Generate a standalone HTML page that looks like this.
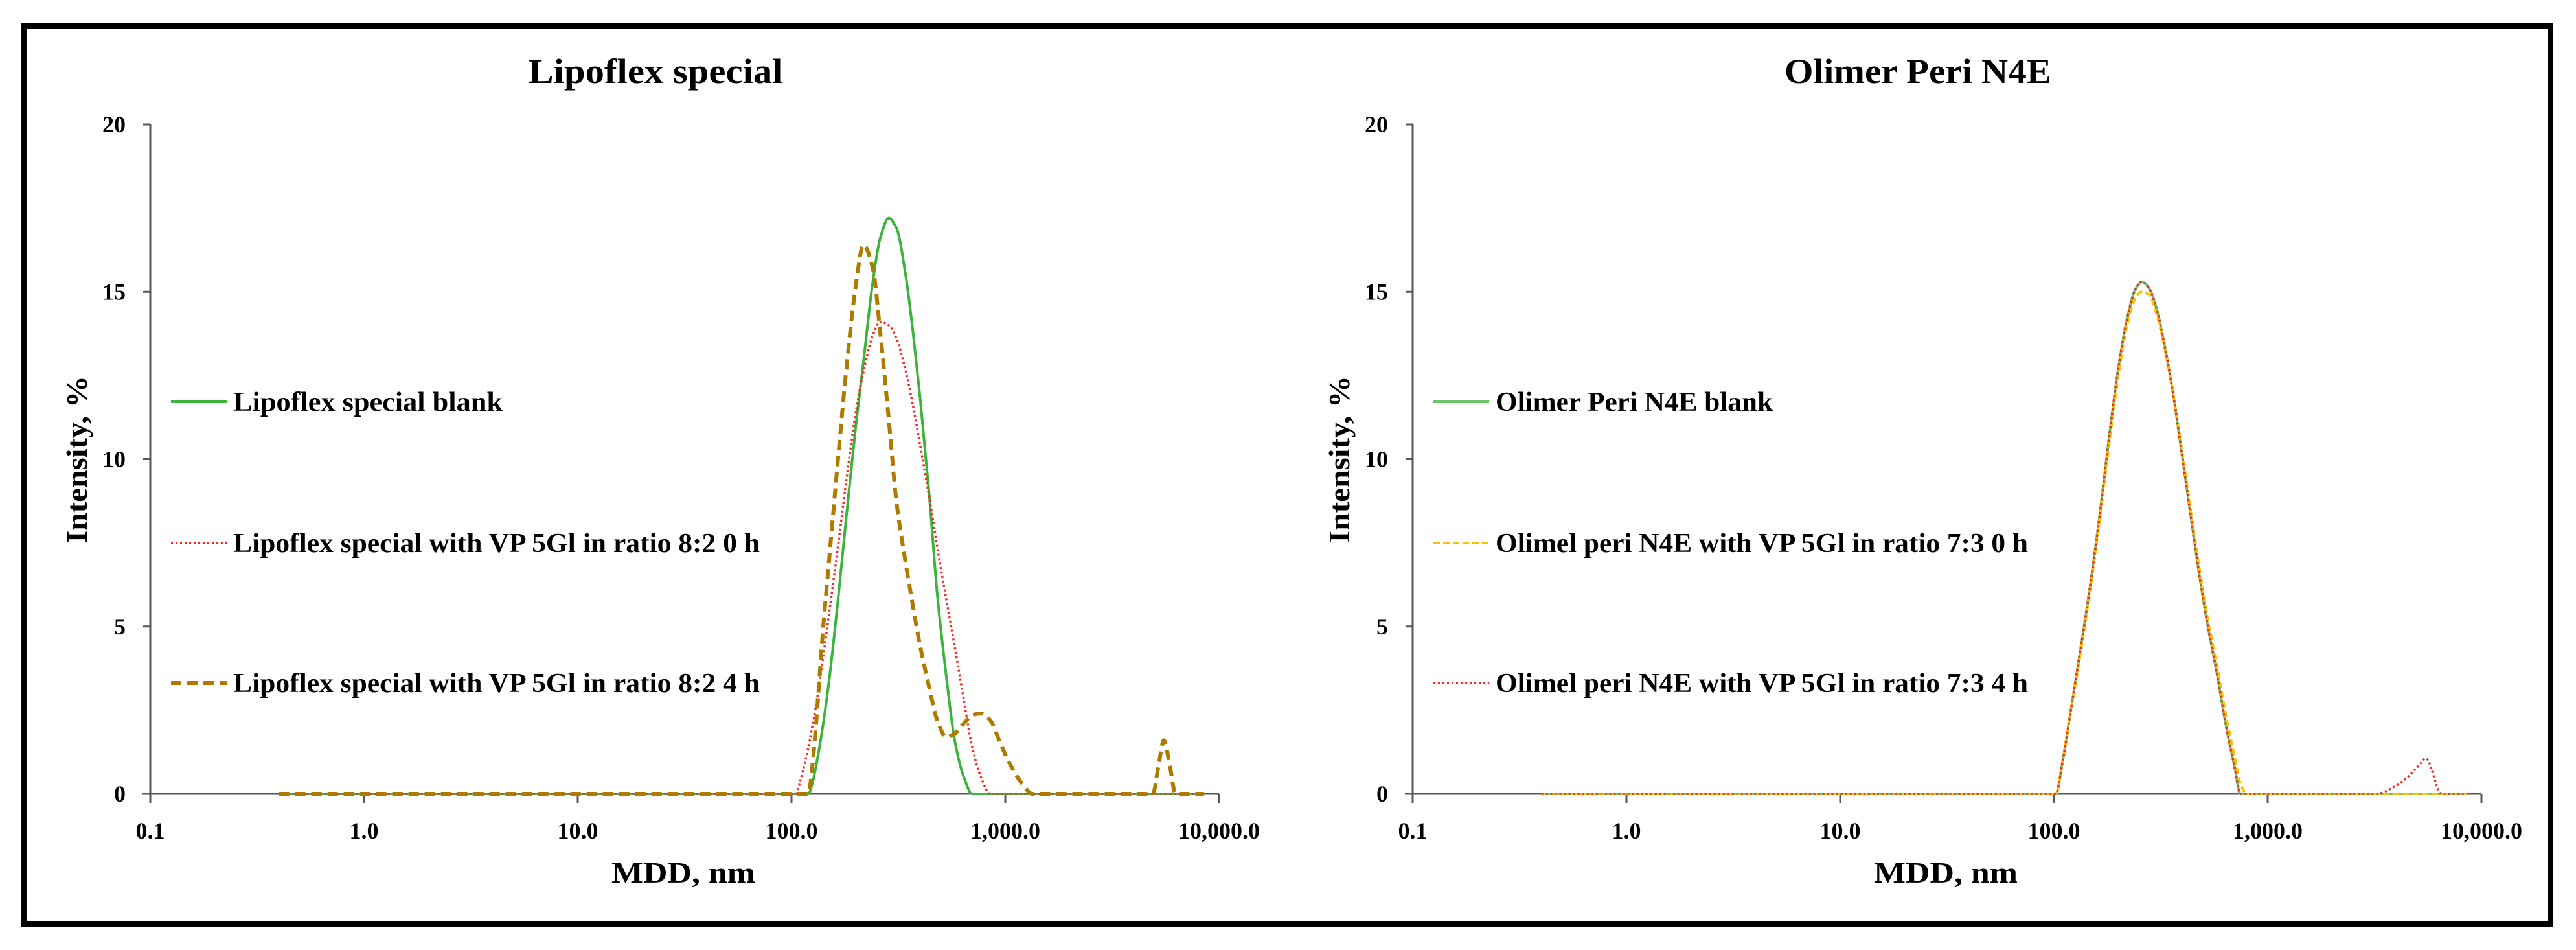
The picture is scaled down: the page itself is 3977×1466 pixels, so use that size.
<!DOCTYPE html>
<html><head><meta charset="utf-8">
<style>
html,body{margin:0;padding:0;background:#fff;}
svg{display:block;}
text{font-family:"Liberation Serif",serif;font-weight:bold;fill:#000;}
</style></head>
<body>
<svg id="fig" width="3977" height="1466" viewBox="0 0 3977 1466" xmlns="http://www.w3.org/2000/svg">
<rect x="37" y="40" width="3901" height="1386" fill="#fff" stroke="#000" stroke-width="8"/>
<g id="left"></g>
<g id="right"></g>
</svg>
<script>
// Left chart data
const sizesL = [0.4,100,105,110,120,125,130,140,150,165,180,200,217,240,260,285,310,340,370,400,440,480,530,580,640,700,770,850,950,1050,1200,1340,4900,5200,5520,5900,6260,8500];
const lipoBlank = [0,0,0,0,0,0.3,0.8,2.0,3.4,5.8,8.2,11.0,12.9,15.3,16.6,17.2,16.9,15.6,13.8,11.8,9.0,6.0,3.5,1.6,0.5,0,0,0,0,0,0,0,0,0,0,0,0,0];
const lipo0h = [0,0,0,0.4,1.4,2.0,2.6,4.0,5.4,7.4,9.3,11.4,12.6,13.7,14.1,14.0,13.6,12.7,11.6,10.4,8.9,7.4,5.8,4.4,2.8,1.4,0.5,0,0,0,0,0,0,0,0,0,0,0];
const lipo4h = [0,0,0,0,0,0.8,2.0,4.8,7.0,10.0,12.6,15.2,16.4,15.7,13.8,11.2,8.7,7.0,5.6,4.4,3.2,2.2,1.7,1.8,2.1,2.35,2.4,2.2,1.5,0.9,0.3,0,0,0.8,1.6,0.8,0,0];
// Right chart data
const sizesR = [0.4,100,102,110,120,130,140,150,165,180,200,220,240,258,280,300,330,360,400,440,480,525,580,640,700,746,800,3200,4000,4600,5100,5500,6500,8500];
const olimBlank = [0,0,0,1.0,2.5,3.9,5.2,6.5,8.5,10.5,12.7,14.2,15.06,15.3,15.08,14.56,13.37,12.0,10.0,8.15,6.5,5.0,3.57,2.0,0.8,0,0,0,0,0,0,0,0,0];
const olim0h = [0,0,0,1.0,2.5,3.8,5.1,6.4,8.4,10.3,12.5,14.0,14.8,15.0,14.9,14.4,13.3,12.0,10.1,8.3,6.7,5.2,3.8,2.3,1.1,0.3,0,0,0,0,0,0,0,0];
const olim4h = [0,0,0,1.0,2.5,3.9,5.2,6.5,8.5,10.5,12.7,14.2,15.06,15.3,15.08,14.56,13.37,12.0,10.0,8.15,6.5,5.0,3.57,2.0,0.8,0,0,0,0.25,0.55,0.85,1.06,0,0];
const yTicks = [0,5,10,15,20];
const xTickVals = [0.1,1,10,100,1000,10000];
const xTickLabels = ["0.1","1.0","10.0","100.0","1,000.0","10,000.0"];

const NS="http://www.w3.org/2000/svg";
function mk(parent,tag,attrs){const e=document.createElementNS(NS,tag);for(const k in attrs)e.setAttribute(k,attrs[k]);parent.appendChild(e);return e;}

function monotonePath(P){
  const n=P.length, dx=[], m=[], t=[];
  for(let i=0;i<n-1;i++){dx[i]=P[i+1][0]-P[i][0];m[i]=(P[i+1][1]-P[i][1])/dx[i];}
  t[0]=m[0];t[n-1]=m[n-2];
  for(let i=1;i<n-1;i++){t[i]=(m[i-1]*m[i]<=0)?0:(3*(dx[i-1]+dx[i]))/((2*dx[i]+dx[i-1])/m[i-1]+(dx[i]+2*dx[i-1])/m[i]);}
  let d='M'+P[0][0].toFixed(1)+','+P[0][1].toFixed(1);
  for(let i=0;i<n-1;i++){
    const h=dx[i]/3;
    d+=' C'+(P[i][0]+h).toFixed(1)+','+(P[i][1]+t[i]*h).toFixed(1)+' '+(P[i+1][0]-h).toFixed(1)+','+(P[i+1][1]-t[i+1]*h).toFixed(1)+' '+P[i+1][0].toFixed(1)+','+P[i+1][1].toFixed(1);
  }
  return d;
}

function chart(g,cfg){
  const x0=cfg.x0, x1=cfg.x0+1650, y0=1225, y1=192;
  const xs=v=>x0+(Math.log10(v)+1)/5*(x1-x0);
  const ys=v=>y0-v/20*(y0-y1);
  let t=mk(g,'text',{x:cfg.titleX,y:128,'font-size':54,'text-anchor':'middle',textLength:cfg.titleW,lengthAdjust:'spacingAndGlyphs'});
  
  
  t.textContent=cfg.title;
  let ax=mk(g,'g',{});
  
  
  mk(ax,'line',{x1:x0,y1:y1,x2:x0,y2:y0,stroke:'#555','stroke-width':3});
  yTicks.forEach(v=>{
    mk(ax,'line',{x1:x0-11,y1:ys(v),x2:x0,y2:ys(v),stroke:'#555','stroke-width':3});
    const l=mk(ax,'text',{x:x0-38,y:ys(v)+12,'font-size':36,'text-anchor':'end'});
    
    
    l.textContent=String(v);
  });
  let bx=mk(g,'g',{});
  
  
  mk(bx,'line',{x1:x0-12,y1:y0,x2:x1,y2:y0,stroke:'#555','stroke-width':3});
  xTickVals.forEach((v,i)=>{
    mk(bx,'line',{x1:xs(v),y1:y0,x2:xs(v),y2:y0+14,stroke:'#555','stroke-width':3});
    const l=mk(bx,'text',{x:xs(v),y:1294,'font-size':36,'text-anchor':'middle'});
    
    
    l.textContent=xTickLabels[i];
  });
  let xt=mk(g,'text',{x:cfg.x0+823,y:1362,'font-size':46,'text-anchor':'middle',textLength:222,lengthAdjust:'spacingAndGlyphs'});
  
  
  xt.textContent='MDD, nm';
  let yt=mk(g,'text',{x:0,y:0,'font-size':46,'text-anchor':'middle',textLength:258,lengthAdjust:'spacingAndGlyphs',transform:`translate(${cfg.x0-98},709) rotate(-90)`});
  
  
  yt.textContent='Intensity, %';
  const lx=cfg.x0+32, ly=[620,838,1054];
  cfg.series.forEach((s,i)=>{
    const pts=cfg.sizes.map((v,j)=>[xs(v),ys(s.vals[j])]);
    const p=mk(g,'path',{d:monotonePath(pts),fill:'none',stroke:s.color,'stroke-width':s.w,'stroke-dasharray':s.dash,'stroke-linejoin':'round'});
    
    
    const le=mk(g,'g',{});
    
    
    mk(le,'line',{x1:lx,y1:ly[i],x2:lx+86,y2:ly[i],stroke:s.color,'stroke-width':s.w,'stroke-dasharray':s.dash});
    const tt=mk(le,'text',{x:lx+96,y:ly[i]+14,'font-size':42,textLength:s.tw,lengthAdjust:'spacingAndGlyphs'});
    tt.textContent=s.label;
  });
}
chart(document.getElementById('left'),{x0:232,title:'Lipoflex special',titleX:1012,titleW:393,sizes:sizesL,series:[
  {id:'lipoflex-blank',vals:lipoBlank,color:'#3cb43c',w:4,dash:'',label:'Lipoflex special blank',tw:416},
  {id:'lipoflex-0h',vals:lipo0h,color:'#ff2020',w:3.5,dash:'3 4',label:'Lipoflex special with VP 5Gl in ratio 8:2 0 h',tw:813},
  {id:'lipoflex-4h',vals:lipo4h,color:'#b07a00',w:6,dash:'16 9',label:'Lipoflex special with VP 5Gl in ratio 8:2 4 h',tw:813}
]});
chart(document.getElementById('right'),{x0:2181,title:'Olimer Peri N4E',titleX:2961,titleW:412,sizes:sizesR,series:[
  {id:'olimer-blank',vals:olimBlank,color:'#6cc46c',w:4,dash:'',label:'Olimer Peri N4E blank',tw:428},
  {id:'olimel-0h',vals:olim0h,color:'#ffc000',w:4,dash:'10 5',label:'Olimel peri N4E with VP 5Gl in ratio 7:3 0 h',tw:822},
  {id:'olimel-4h',vals:olim4h,color:'#ff2020',w:3.5,dash:'3 4',label:'Olimel peri N4E with VP 5Gl in ratio 7:3 4 h',tw:822}
]});
</script>
</body></html>
